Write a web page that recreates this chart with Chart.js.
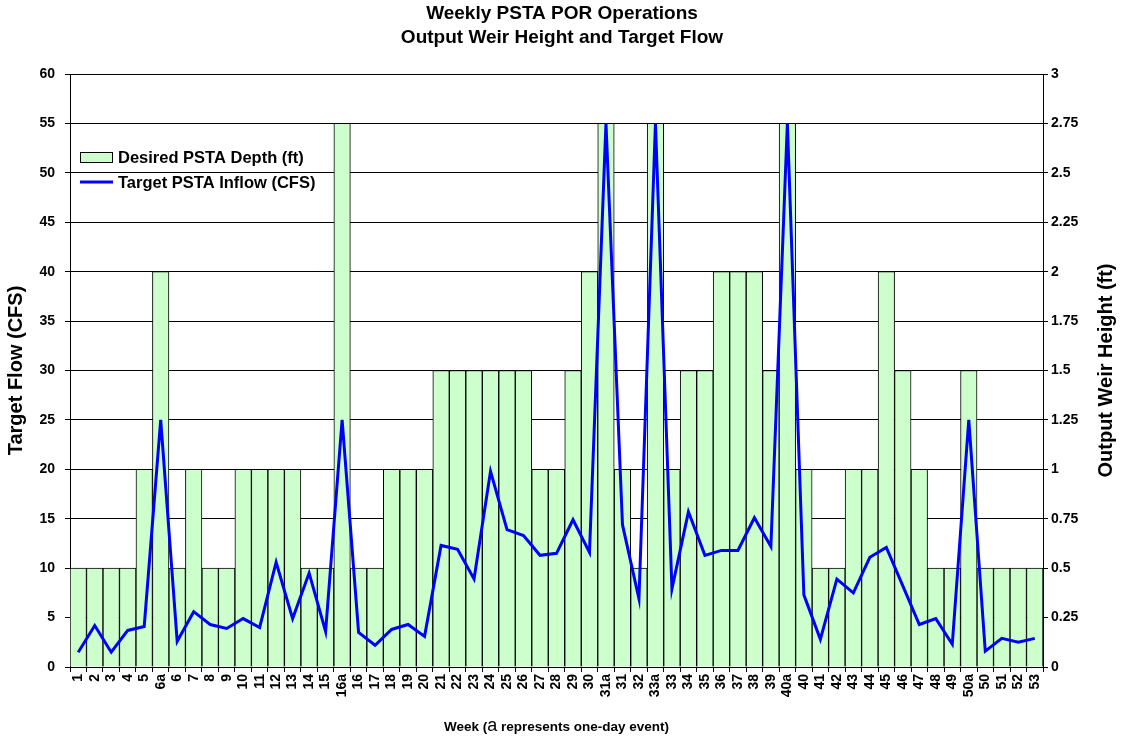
<!DOCTYPE html>
<html>
<head>
<meta charset="utf-8">
<script src="https://cdn.jsdelivr.net/npm/chart.js@4"></script>
<style>
  html, body { margin: 0; padding: 0; background: #fff; }
  #wrap { width: 1124px; height: 740px; }
</style>
</head>
<body>
<div id="wrap"><canvas id="weirChart" width="1124" height="740"></canvas></div>
<script>
const weeks = ["1","2","3","4","5","6a","6","7","8","9","10","11","12","13","14","15","16a","16","17","18","19","20",
  "21","22","23","24","25","26","27","28","29","30","31a","31","32","33a","33","34","35","36","37","38","39","40a","40",
  "41","42","43","44","45","46","47","48","49","50a","50","51","52","53"];

// desired depth, drawn against the left (CFS) scale as in the original
const desiredDepth = [10,10,10,10,20,40,10,20,10,10,20,20,20,20,10,10,55,10,10,20,20,20,
  30,30,30,30,30,30,20,20,30,40,55,20,10,55,20,30,30,40,40,40,30,55,20,
  10,10,20,20,40,30,20,10,10,30,10,10,10,10];

const targetInflow = [1.5,4.2,1.5,3.7,4.1,25,2.6,5.6,4.3,3.9,4.9,4.0,10.6,4.9,9.5,3.6,25,3.5,2.2,3.8,4.3,3.1,
  12.3,11.9,8.9,19.8,13.9,13.3,11.3,11.5,14.9,11.6,55,14.4,6.9,55,7.9,15.7,11.3,11.8,11.8,15.1,12.2,55,7.3,
  2.8,8.9,7.5,11.1,12.1,8.2,4.3,4.9,2.3,25,1.6,2.9,2.5,2.9];

const font = "Arial, 'Liberation Sans', sans-serif";

// legend inside the plot, right title reading bottom-to-top, x title with the big "a"
const extras = {
  id: "extras",
  afterDraw(chart) {
    const c = chart.ctx;
    const area = chart.chartArea;
    c.save();
    c.font = "bold 16.5px " + font;
    c.textBaseline = "middle";
    c.fillStyle = "#ccffcc";
    c.fillRect(80, 152, 33, 11);
    c.strokeStyle = "#000";
    c.lineWidth = 1;
    c.strokeRect(80.5, 152.5, 32, 10);
    c.fillStyle = "#000";
    c.fillText("Desired PSTA Depth (ft)", 118, 158);
    c.strokeStyle = "#0000ff";
    c.lineWidth = 3;
    c.beginPath();
    c.moveTo(80, 182);
    c.lineTo(113, 182);
    c.stroke();
    c.fillText("Target PSTA Inflow (CFS)", 118, 183);

    // x axis title
    const parts = [
      ["Week (", "bold 13.5px " + font],
      ["a", "18px " + font],
      [" represents one-day event)", "bold 13.5px " + font]
    ];
    let total = 0;
    parts.forEach(p => { c.font = p[1]; total += c.measureText(p[0]).width; });
    let x = (area.left + area.right) / 2 - total / 2;
    c.textBaseline = "alphabetic";
    parts.forEach(p => {
      c.font = p[1];
      c.fillText(p[0], x, 731);
      x += c.measureText(p[0]).width;
    });

    c.translate(1106, (area.top + area.bottom) / 2);
    c.rotate(-Math.PI / 2);
    c.textAlign = "center";
    c.textBaseline = "middle";
    c.font = "bold 20px " + font;
    c.fillText("Output Weir Height (ft)", 0, 0);
    c.restore();
  }
};

new Chart(document.getElementById("weirChart").getContext("2d"), {
  data: {
    labels: weeks,
    datasets: [
      {
        type: "line",
        label: "Target PSTA Inflow (CFS)",
        data: targetInflow,
        borderColor: "#0000ff",
        borderWidth: 3,
        pointRadius: 0,
        tension: 0,
        order: 0
      },
      {
        type: "bar",
        label: "Desired PSTA Depth (ft)",
        data: desiredDepth,
        backgroundColor: "#ccffcc",
        borderColor: "#000",
        borderWidth: 1,
        barPercentage: 1,
        categoryPercentage: 1,
        order: 1
      }
    ]
  },
  options: {
    responsive: false,
    animation: false,
    layout: { padding: 0 },
    plugins: {
      legend: { display: false },
      tooltip: { enabled: false },
      title: {
        display: true,
        text: ["Weekly PSTA POR Operations", "Output Weir Height and Target Flow"],
        color: "#000",
        font: { family: font, size: 19, weight: "bold", lineHeight: "24px" },
        padding: { top: 2, bottom: 24 }
      }
    },
    scales: {
      x: {
        grid: { display: true, drawOnChartArea: false, drawTicks: true, tickLength: 5, color: "#000" },
        border: { color: "#000", width: 1 },
        ticks: { color: "#000", font: { family: font, size: 14, weight: "bold" }, maxRotation: 90, minRotation: 90, autoSkip: false, padding: 2 },
        afterFit(scale) { scale.height = 73; }
      },
      y: {
        position: "left",
        min: 0,
        max: 60,
        ticks: { stepSize: 5, color: "#000", font: { family: font, size: 14, weight: "bold" }, padding: 10 },
        grid: { color: "#000", tickLength: 5 },
        border: { color: "#000", width: 1 },
        title: { display: true, text: "Target Flow (CFS)", color: "#000", font: { family: font, size: 20, weight: "bold", lineHeight: "24px" }, padding: { top: 4, bottom: 0 } },
        afterFit(scale) { scale.width = 70; }
      },
      y1: {
        position: "right",
        min: 0,
        max: 3,
        ticks: {
          stepSize: 0.25,
          color: "#000",
          font: { family: font, size: 14, weight: "bold" },
          padding: 3,
          callback: v => String(+v.toFixed(2))
        },
        grid: { drawOnChartArea: false, color: "#000", tickLength: 5 },
        border: { color: "#000", width: 1 },
        afterFit(scale) { scale.width = 81; }
      }
    }
  },
  plugins: [extras]
});
</script>
</body>
</html>
